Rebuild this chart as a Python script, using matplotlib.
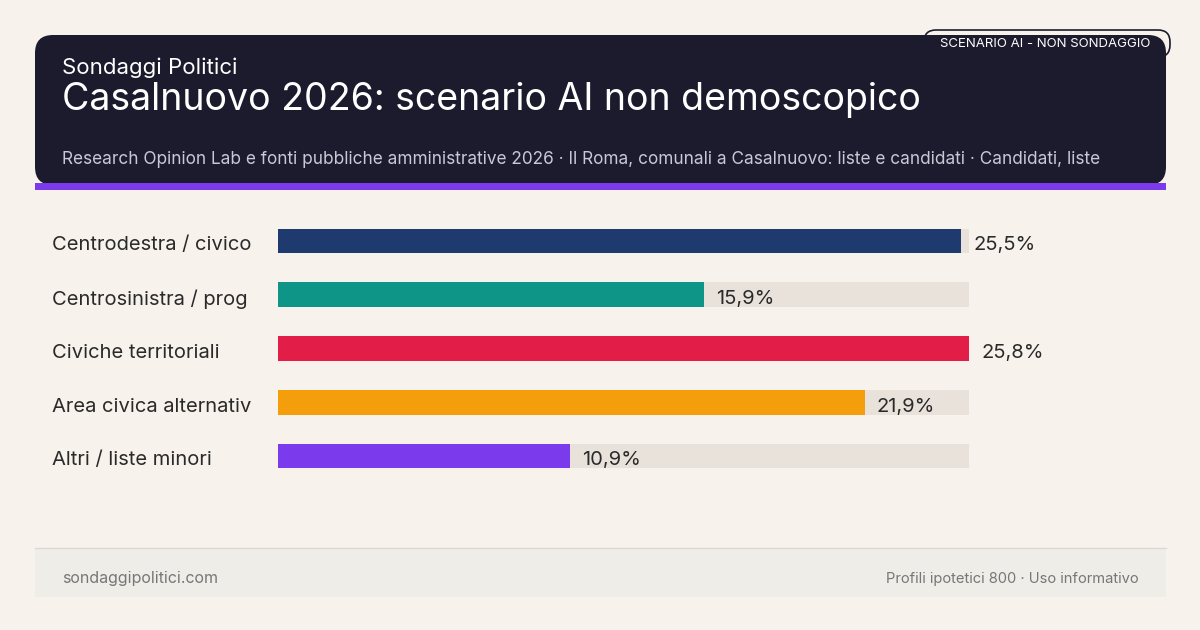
import matplotlib.pyplot as plt
from matplotlib.patches import FancyBboxPatch, Rectangle

plt.rcParams["font.family"] = ["Inter", "DejaVu Sans"]

categories = ["Centrodestra / civico", "Centrosinistra / prog", "Civiche territoriali",
              "Area civica alternativ", "Altri / liste minori"]
values = [25.5, 15.9, 25.8, 21.9, 10.9]
colors = ["#1e3a6e", "#0f9488", "#e11d48", "#f59e0b", "#7c3aed"]
track_max = 25.8

W, H = 1200, 630
BG = "#f7f3ec"
fig = plt.figure(figsize=(W / 100, H / 100), dpi=100, facecolor=BG)

# decoration layer in pixel coordinates
deco = fig.add_axes([0, 0, 1, 1])
deco.set_xlim(0, W)
deco.set_ylim(H, 0)
deco.axis("off")

deco.add_patch(FancyBboxPatch((35, 35), 1131, 150, boxstyle="round,pad=0,rounding_size=18",
                              facecolor="#1c1b2e", edgecolor="none"))
deco.add_patch(Rectangle((35, 183), 1131, 7, facecolor="#7c3aed", edgecolor="none"))
deco.add_patch(FancyBboxPatch((924, 30), 246, 27, boxstyle="round,pad=0,rounding_size=12",
                              facecolor="none", edgecolor="#1c1b2e", linewidth=1.2))
deco.text(1045, 44, "SCENARIO AI - NON SONDAGGIO", color="white", fontsize=9.5,
          ha="center", va="center")
deco.text(62, 68, "Sondaggi Politici", color="white", fontsize=16, va="center")
deco.text(62, 100, "Casalnuovo 2026: scenario AI non demoscopico", color="white",
          fontsize=27, va="center")
deco.text(62, 160, "Research Opinion Lab e fonti pubbliche amministrative 2026 · Il Roma, "
          "comunali a Casalnuovo: liste e candidati · Candidati, liste",
          color="#c9c8d6", fontsize=12.4, va="center")

# footer
deco.add_patch(Rectangle((35, 548), 1131, 49, facecolor="#efede8", edgecolor="none"))
deco.plot([35, 1166], [548, 548], color="#dcd9d2", linewidth=1)
deco.text(62, 579, "sondaggipolitici.com", color="#777777", fontsize=11.5, va="center")
deco.text(1139, 579, "Profili ipotetici 800 · Uso informativo", color="#777777",
          fontsize=10.6, va="center", ha="right")

# bar chart: x axis spans pixel 278..969, rows centred at 241..456
row_h = 53.75
top, n = 241 - row_h / 2, len(categories)
ax = fig.add_axes([278 / W, 1 - (top + n * row_h) / H, (969 - 278) / W, n * row_h / H])
ax.set_xlim(0, track_max)
ax.set_ylim(n - 0.5, -0.5)
ax.axis("off")
ys = range(n)
ax.barh(ys, [track_max] * n, height=0.46, color="#e8e2da")
ax.barh(ys, values, height=0.46, color=colors)
for y, v, c in zip(ys, values, categories):
    ax.text(v + 0.45, y + 0.08, f"{v:.1f}".replace(".", ",") + "%", va="center",
            fontsize=14.5, color="#2a2a2a")
    ax.text(-8.44, y + 0.08, c, va="center", fontsize=14.5, color="#2a2a2a")

fig.savefig("out.png", dpi=100, facecolor=BG)
